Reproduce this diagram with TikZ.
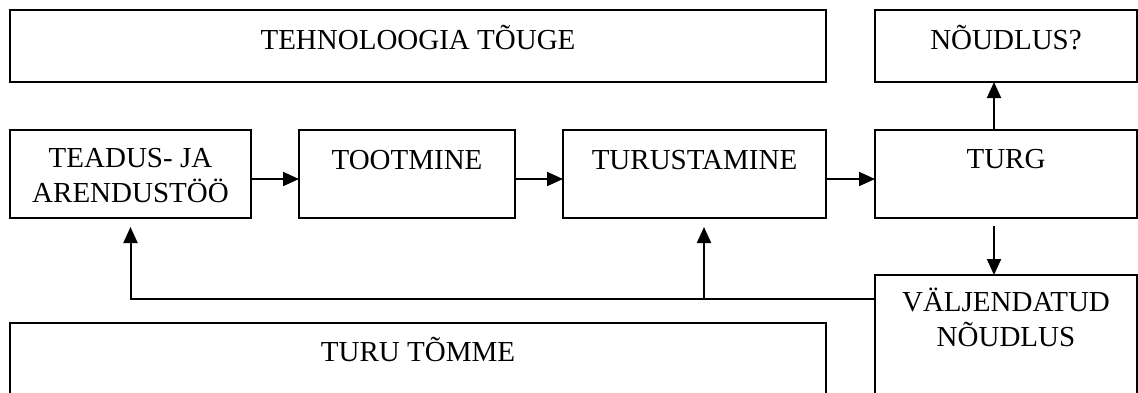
\documentclass[tikz,border=0pt]{standalone}
\usepackage{fontspec}
\setmainfont{Liberation Serif}
\usetikzlibrary{arrows.meta}
\tikzset{
  box/.style={draw, line width=1pt, anchor=north west, inner sep=0pt, outer sep=0pt},
  txt/.style={anchor=base, align=center, inner sep=0pt, font=\fontsize{14.5}{17.5}\selectfont},
  arr/.style={-{Triangle[length=8pt,width=7pt]}, line width=1pt},
}
\begin{document}
\begin{tikzpicture}[x=0.5pt,y=-0.5pt]
   \useasboundingbox (0,0) rectangle (1138,392);
   % boxes
   \node[box, minimum width=408pt, minimum height=36pt] (tech) at (10,10) {};
   \node[box, minimum width=131pt, minimum height=36pt] (noud) at (875,10) {};
   \node[box, minimum width=120.5pt, minimum height=44pt] (ta) at (10,130) {};
   \node[box, minimum width=108pt, minimum height=44pt] (toot) at (299,130) {};
   \node[box, minimum width=131.5pt, minimum height=44pt] (turust) at (563,130) {};
   \node[box, minimum width=131pt, minimum height=44pt] (turg) at (875,130) {};
   \node[box, minimum width=131pt, minimum height=65pt] (valj) at (875,275) {};
   \node[box, minimum width=408pt, minimum height=41pt] (tomme) at (10,323) {};
   % texts
   \node[txt] (tech-t) at ([yshift=-19.5pt]tech.north) {TEHNOLOOGIA TÕUGE};
   \node[txt] (noud-t) at ([yshift=-19.5pt]noud.north) {NÕUDLUS?};
   \node[txt] (ta-t) at ([yshift=-36pt]ta.north) {TEADUS- JA\\ARENDUSTÖÖ};
   \node[txt] (toot-t) at ([yshift=-19.5pt]toot.north) {TOOTMINE};
   \node[txt] (turust-t) at ([yshift=-19.5pt]turust.north) {TURUSTAMINE};
   \node[txt] (turg-t) at ([yshift=-19pt]turg.north) {TURG};
   \node[txt] (valj-t) at ([yshift=-35.5pt]valj.north) {VÄLJENDATUD\\NÕUDLUS};
   \node[txt] (tomme-t) at ([yshift=-19pt]tomme.north) {TURU TÕMME};
   % arrows
   \draw[arr] ([yshift=-2.5pt]ta.east) -- ([yshift=-2.5pt]toot.west);
   \draw[arr] ([yshift=-2.5pt]toot.east) -- ([yshift=-2.5pt]turust.west);
   \draw[arr] ([yshift=-2.5pt]turust.east) -- ([yshift=-2.5pt]turg.west);
   \draw[arr] ([xshift=-6pt]turg.north) -- ([xshift=-6pt]noud.south);
   \draw[arr, shorten <=4pt] ([xshift=-6pt]turg.south) -- ([xshift=-6pt]valj.north);
   \coordinate (fb) at (875,299);
   \coordinate (tu-in) at ([xshift=4.75pt]turust.south);
   \draw[arr, shorten >=4.5pt] (fb) -- (fb -| ta.south) -- (ta.south);
   \draw[arr, shorten >=4.5pt] (fb -| tu-in) -- (tu-in);
\end{tikzpicture}
\end{document}
